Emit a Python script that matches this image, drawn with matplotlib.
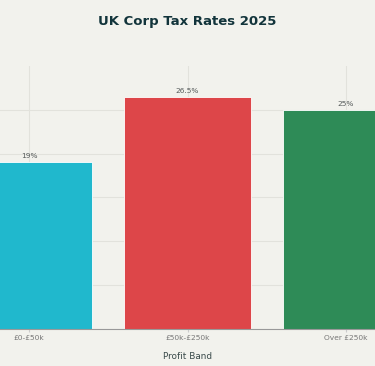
import matplotlib.pyplot as plt
import numpy as np

bands = ["£0-£50k", "£50k-£250k", "Over £250k"]
rates = [19, 26.5, 25]
labels = ["19%", "26.5%", "25%"]
colors = ["#20B8CD", "#DD4649", "#2E8B57"]

bg = "#F2F2ED"
fig = plt.figure(figsize=(3.75, 3.66), dpi=100, facecolor=bg)
ax = fig.add_axes([0, 0.101, 1, 0.719], facecolor=bg)

x = np.arange(len(bands))
ax.bar(x, rates, width=0.8, color=colors, edgecolor="white", linewidth=0.6, zorder=2)
for xi, r, lab in zip(x, rates, labels):
    ax.text(xi, r + 0.35, lab, ha="center", va="bottom", fontsize=5.3, color="#555a5a")

ax.set_xlim(-0.183, 2.183)
ax.set_ylim(0, 30)
ax.set_yticks([0, 5, 10, 15, 20, 25])
ax.set_yticklabels([])
ax.tick_params(axis="y", length=0)
ax.set_xticks(x)
ax.set_xticklabels(bands, fontsize=5.4, color="#777777")
ax.tick_params(axis="x", length=2, color="#cccccc", pad=2.5)
ax.grid(True, color="#E2E2DC", linewidth=0.8, zorder=0)
ax.set_axisbelow(True)
for s in ["top", "left", "right"]:
    ax.spines[s].set_visible(False)
ax.spines["bottom"].set_color("#999999")
ax.spines["bottom"].set_linewidth(0.8)
ax.set_xlabel("Profit Band", fontsize=6.4, color="#3a4a4a", labelpad=7.5)

fig.text(0.5, 0.941, "UK Corp Tax Rates 2025", ha="center", va="center",
         fontsize=9.5, fontweight="bold", color="#12343B")

fig.savefig("out.png", dpi=100, facecolor=bg)
